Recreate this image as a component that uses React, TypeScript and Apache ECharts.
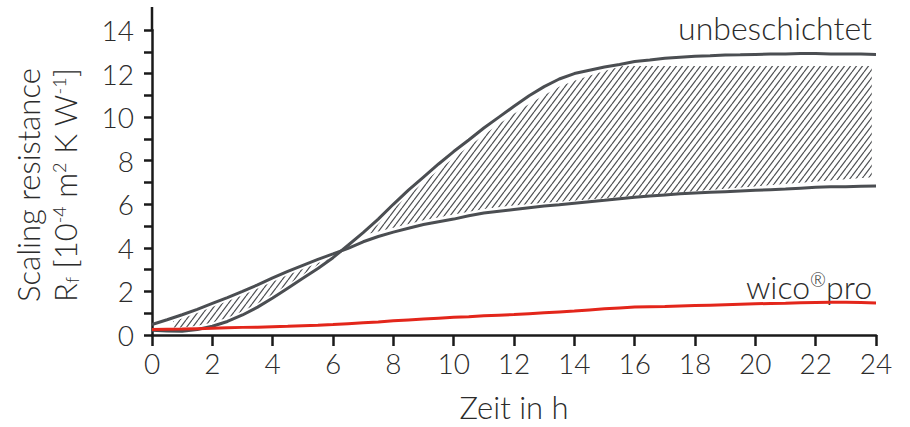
import React, { useEffect, useRef } from 'react';
import * as echarts from 'echarts';

const hours = [0, 0.5, 1, 1.5, 2, 2.5, 3, 3.5, 4, 4.5, 5, 5.5, 6, 6.5, 7, 7.5, 8, 8.5, 9, 9.5, 10, 10.5, 11, 11.5, 12, 12.5, 13, 13.5, 14, 14.5, 15, 15.5, 16, 16.5, 17, 17.5, 18, 18.5, 19, 19.5, 20, 20.5, 21, 21.5, 22, 22.5, 23, 23.5, 24];

// unbeschichtet, curve ending low (~6.8)
const uncoatedA = [0.48, 0.7, 0.93, 1.18, 1.45, 1.72, 2.0, 2.3, 2.62, 2.92, 3.2, 3.47, 3.72, 3.98, 4.28, 4.52, 4.72, 4.9, 5.07, 5.2, 5.32, 5.47, 5.6, 5.68, 5.76, 5.84, 5.92, 5.98, 6.05, 6.12, 6.18, 6.25, 6.32, 6.38, 6.43, 6.48, 6.52, 6.55, 6.58, 6.61, 6.64, 6.67, 6.7, 6.74, 6.78, 6.8, 6.81, 6.83, 6.84];
// unbeschichtet, curve ending high (~12.9)
const uncoatedB = [0.22, 0.18, 0.17, 0.25, 0.4, 0.62, 0.92, 1.28, 1.7, 2.15, 2.6, 3.05, 3.55, 4.12, 4.7, 5.32, 6.0, 6.65, 7.25, 7.85, 8.42, 8.95, 9.5, 10.0, 10.5, 10.98, 11.4, 11.75, 12.0, 12.15, 12.3, 12.42, 12.55, 12.62, 12.7, 12.75, 12.8, 12.82, 12.85, 12.86, 12.88, 12.9, 12.9, 12.92, 12.92, 12.9, 12.9, 12.9, 12.88];
// wico®pro
const wicoPro = [0.25, 0.26, 0.27, 0.29, 0.31, 0.33, 0.35, 0.36, 0.38, 0.4, 0.43, 0.45, 0.48, 0.52, 0.56, 0.6, 0.65, 0.69, 0.73, 0.77, 0.81, 0.84, 0.88, 0.91, 0.94, 0.98, 1.02, 1.06, 1.1, 1.15, 1.2, 1.24, 1.28, 1.3, 1.31, 1.33, 1.35, 1.37, 1.39, 1.41, 1.43, 1.45, 1.46, 1.48, 1.49, 1.5, 1.5, 1.49, 1.47];

// hatched band, part 1 (A above B)
const hatch1X = [0.7, 1, 1.5, 2, 2.5, 3, 3.5, 4, 4.5, 5, 5.5, 5.9];
const hatch1Top = [0.63, 0.76, 1.01, 1.28, 1.55, 1.83, 2.13, 2.45, 2.75, 3.03, 3.3, 3.5];
const hatch1Bottom = [0.35, 0.34, 0.42, 0.57, 0.79, 1.09, 1.45, 1.87, 2.32, 2.77, 3.22, 3.5];

// hatched band, part 2 (B above A)
const hatch2TopX = [7.1, 7.5, 8, 8.5, 9, 9.5, 10, 10.5, 11, 11.5, 12, 12.5, 13, 13.5, 14, 14.5, 15, 15.6, 23.86];
const hatch2Top = [4.62, 5.1, 5.78, 6.42, 7.0, 7.57, 8.12, 8.65, 9.18, 9.68, 10.16, 10.6, 11.0, 11.4, 11.67, 11.9, 12.12, 12.35, 12.35];
const hatch2BottomX = [7.1, 7.5, 8, 9, 10, 11, 12, 13, 13.5, 23.86];
const hatch2Bottom = [4.62, 4.75, 4.92, 5.27, 5.53, 5.78, 5.95, 6.07, 6.12, 7.24];

const xTicks = [0, 2, 4, 6, 8, 10, 12, 14, 16, 18, 20, 22, 24];
const yLabels = [0, 2, 4, 6, 8, 10, 12, 14];

const FONT = '"Lato Light", Lato, "Open Sans", sans-serif';
const GRAY = '#4b4e52';
const RED = '#e3261b';
const AXIS = '#1a1a1a';
const TEXT = '#2b2b2b';

export default function App() {
  const ref = useRef<HTMLDivElement>(null);

  useEffect(() => {
    if (!ref.current) return;
    const chart = echarts.init(ref.current, null, { renderer: 'svg' });

    const tile = document.createElement('canvas');
    const tw = 6, th = 8;
    tile.width = tw;
    tile.height = th;
    const ctx = tile.getContext('2d')!;
    ctx.strokeStyle = '#4d4f52';
    ctx.lineWidth = 1.2;
    for (const k of [0, 1, 2]) {
      ctx.beginPath();
      ctx.moveTo(k * tw, 0);
      ctx.lineTo((k - 1) * tw, th);
      ctx.stroke();
    }
    const pattern = { image: tile, repeat: 'repeat' } as any;

    const hatch = (topX: number[], top: number[], botX: number[], bot: number[]) => ({
      type: 'custom',
      coordinateSystem: 'cartesian2d',
      silent: true,
      z: 1,
      data: [[topX[0], top[0]]],
      renderItem: (_p: any, api: any) => {
        const pts = topX.map((x, i) => api.coord([x, top[i]]));
        const bpts = botX.map((x, i) => api.coord([x, bot[i]])).reverse();
        return {
          type: 'polygon',
          shape: { points: pts.concat(bpts) },
          style: { fill: pattern, stroke: null },
        };
      },
    });

    const toPairs = (ys: number[]) => hours.map((h, i) => [h, ys[i]]);

    const line = (data: number[], color: string) => ({
      type: 'line',
      data: toPairs(data),
      showSymbol: false,
      symbol: 'none',
      silent: true,
      z: 3,
      lineStyle: { color, width: 3 },
    });

    const textBase = { fontFamily: FONT, fontWeight: 300, fill: TEXT };

    chart.setOption({
      animation: false,
      grid: { left: 152, right: 34, top: 30, bottom: 86 },
      xAxis: {
        type: 'value',
        min: 0,
        max: 24,
        interval: 2,
        name: 'Zeit in h',
        nameLocation: 'middle',
        nameGap: 56,
        nameTextStyle: { fontSize: 31, fontFamily: FONT, fontWeight: 300, color: TEXT },
        axisLine: { show: true, lineStyle: { color: AXIS, width: 2.5 } },
        axisTick: { show: true, length: 11, lineStyle: { color: AXIS, width: 2.5 } },
        axisLabel: {
          fontSize: 28,
          fontFamily: FONT,
          fontWeight: 300,
          color: TEXT,
          margin: 14,
          formatter: (v: number) => (xTicks.includes(v) ? String(v) : ''),
        },
        splitLine: { show: false },
      },
      yAxis: {
        type: 'value',
        min: 0,
        max: 14,
        interval: 1,
        axisLine: { show: true, lineStyle: { color: AXIS, width: 2.5 } },
        axisTick: { show: true, length: 8, lineStyle: { color: AXIS, width: 2.5 } },
        axisLabel: {
          fontSize: 28,
          fontFamily: FONT,
          fontWeight: 300,
          color: TEXT,
          margin: 18,
          formatter: (v: number) => (yLabels.includes(v) ? String(v) : ''),
        },
        splitLine: { show: false },
      },
      graphic: [
        {
          type: 'line',
          shape: { x1: 152, y1: 7, x2: 152, y2: 31 },
          style: { stroke: AXIS, lineWidth: 2.5 },
          silent: true,
        },
        {
          type: 'text',
          x: 28,
          y: 185,
          rotation: Math.PI / 2,
          style: {
            ...textBase,
            text: 'Scaling resistance',
            fontSize: 31,
            align: 'center',
            verticalAlign: 'middle',
          },
        },
        {
          type: 'text',
          x: 65,
          y: 185,
          rotation: Math.PI / 2,
          style: {
            ...textBase,
            text: 'R{sub|f} [10{sup|-4} m{sup|2} K W{sup|-1}]',
            fontSize: 31,
            align: 'center',
            verticalAlign: 'middle',
            lineHeight: 31,
            rich: {
              sup: { ...textBase, fontSize: 18, lineHeight: 18, verticalAlign: 'top' },
              sub: { ...textBase, fontSize: 18, lineHeight: 4, verticalAlign: 'bottom' },
            },
          },
        },
        {
          type: 'text',
          x: 872,
          y: 27,
          style: {
            ...textBase,
            text: 'unbeschichtet',
            fontSize: 32,
            align: 'right',
            verticalAlign: 'middle',
          },
        },
        {
          type: 'text',
          x: 872,
          y: 286,
          style: {
            ...textBase,
            text: 'wico{sup|®}pro',
            fontSize: 32,
            align: 'right',
            verticalAlign: 'middle',
            lineHeight: 32,
            rich: {
              sup: { ...textBase, fontSize: 19, lineHeight: 19, verticalAlign: 'top' },
            },
          },
        },
      ],
      series: [
        hatch(hatch1X, hatch1Top, hatch1X, hatch1Bottom),
        hatch(hatch2TopX, hatch2Top, hatch2BottomX, hatch2Bottom),
        line(uncoatedA, GRAY),
        line(uncoatedB, GRAY),
        line(wicoPro, RED),
      ],
    });

    return () => chart.dispose();
  }, []);

  return (
    <div
      ref={ref}
      style={{ position: 'fixed', left: 0, top: 0, width: 910, height: 427, background: '#fff' }}
    />
  );
}
